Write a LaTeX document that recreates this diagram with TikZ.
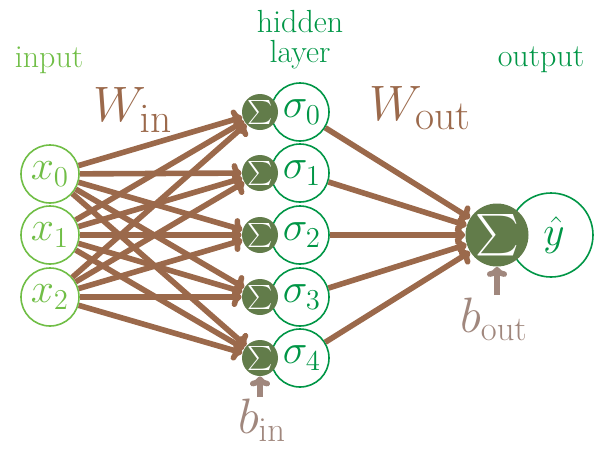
\documentclass[tikz,border=0pt]{standalone}
\usepackage{amsmath}
\usetikzlibrary{arrows.meta}
\definecolor{inpgreen}{RGB}{112,190,70}
\definecolor{hidgreen}{RGB}{0,150,70}
\definecolor{sumgreen}{RGB}{98,124,74}
\definecolor{wbrown}{RGB}{155,105,75}
\definecolor{bgray}{RGB}{160,135,125}
\tikzset{
  inp/.style={circle,draw=inpgreen,line width=0.8pt,fill=white,minimum size=29pt,inner sep=0pt,text=inpgreen,font=\fontsize{22}{22}\selectfont},
  sig/.style={circle,draw=hidgreen,line width=0.8pt,fill=white,minimum size=29pt,inner sep=0pt,text=hidgreen,font=\fontsize{22}{22}\selectfont},
  sumn/.style={circle,fill=sumgreen,minimum size=18pt,inner sep=0pt,text=white,font=\fontsize{12}{12}\selectfont},
  osum/.style={circle,fill=sumgreen,minimum size=31.5pt,inner sep=0pt,text=white,font=\fontsize{22}{22}\selectfont},
  yout/.style={circle,draw=hidgreen,line width=0.8pt,fill=white,minimum size=42pt,inner sep=0pt,text=hidgreen,font=\fontsize{22}{22}\selectfont},
  warrow/.style={draw=wbrown,line width=2.8pt,-{To[length=5pt,width=10pt]}},
  barrow/.style={draw=bgray,line width=2.8pt,-{To[length=5pt,width=10pt]}},
  lbl/.style={font=\fontsize{16}{15}\selectfont,align=center},
  wlbl/.style={text=wbrown,font=\fontsize{28}{28}\selectfont},
  blbl/.style={text=bgray,inner sep=0pt,font=\fontsize{26}{26}\selectfont},
}
\begin{document}
\begin{tikzpicture}[x=0.5pt,y=-0.5pt]
\useasboundingbox (0,0) rectangle (596,450);
% labels
\node[lbl,text=inpgreen] (linput) at (49,60) {input};
\node[lbl,text=hidgreen] (lhidden) at (300,40) {hidden\\layer};
\node[lbl,text=hidgreen] (loutput) at (541,60) {output};
\node[wlbl] (win) at (133,110) {$W_{\mathrm{in}}$};
\node[wlbl] (wout) at (420,108) {$W_{\mathrm{out}}$};
% input nodes
\foreach \i/\y in {0/174,1/235,2/297}{
  \node[inp] (x\i) at (50,\y) {$x_{\i}$};
}
% hidden nodes
\foreach \i/\y in {0/112,1/173,2/235,3/297,4/358}{
  \node[sig] (s\i) at (300,\y) {\hspace{2pt}$\sigma_{\i}$};
  \node[sumn] (h\i) at (260,\y) {$\sum$};
}
% output
\node[yout] (yh) at (551,235) {\hspace{3pt}$\hat{y}$};
\node[osum] (o) at (497,235) {$\sum$};
% connections
\foreach \i in {0,1,2}{
  \foreach \j in {0,1,2,3,4}{
    \draw[warrow] (x\i) -- (h\j);
  }
}
\foreach \j in {0,1,2,3,4}{
  \draw[warrow] (s\j) -- (o);
}
% biases
\node[blbl,anchor=north] (bin) at (262,399) {$b_{\mathrm{in}}$};
\node[blbl,anchor=north] (bout) at (494,298) {$b_{\mathrm{out}}$};
\coordinate (binstart) at (260,397);
\coordinate (boutstart) at (497,295);
\draw[barrow] (binstart) -- (h4);
\draw[barrow] (boutstart) -- (o);
\end{tikzpicture}
\end{document}
